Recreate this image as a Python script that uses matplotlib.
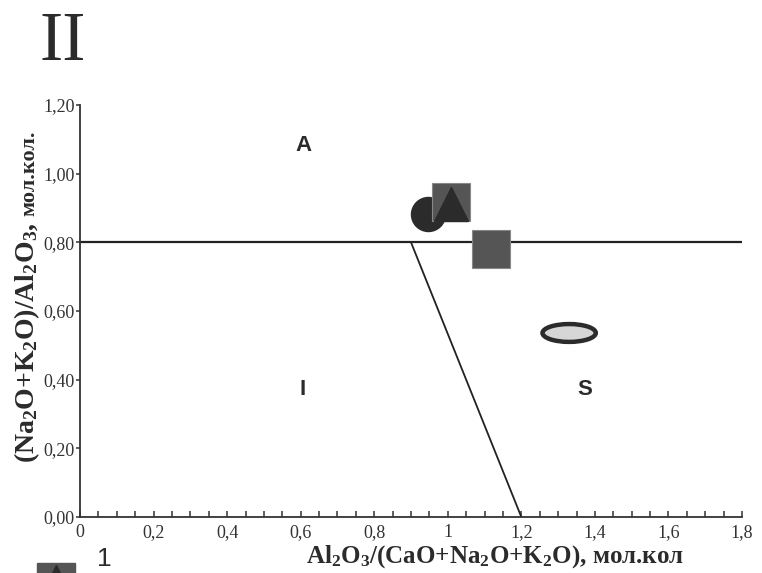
import matplotlib
matplotlib.use("Agg")
import matplotlib.pyplot as plt
from matplotlib.patches import Ellipse
from matplotlib.ticker import MultipleLocator, FixedLocator

plt.rcParams['mathtext.fontset'] = 'custom'
plt.rcParams['mathtext.rm'] = 'Liberation Serif'
plt.rcParams['mathtext.bf'] = 'Liberation Serif:bold'
plt.rcParams['mathtext.it'] = 'Liberation Serif:italic'

# data
x_ticks = [0, 0.2, 0.4, 0.6, 0.8, 1.0, 1.2, 1.4, 1.6, 1.8]
x_tick_labels = ["0", "0,2", "0,4", "0,6", "0,8", "1", "1,2", "1,4", "1,6", "1,8"]
y_ticks = [0.0, 0.2, 0.4, 0.6, 0.8, 1.0, 1.2]
y_tick_labels = ["0,00", "0,20", "0,40", "0,60", "0,80", "1,00", "1,20"]

boundary_h_x = [0.0, 1.8]
boundary_h_y = [0.8, 0.8]
boundary_d_x = [0.9, 1.2]
boundary_d_y = [0.8, 0.0]

circle_pt = (0.945, 0.882)
square1_pt = (1.01, 0.917)
triangle_pt = (1.01, 0.912)
square2_pt = (1.117, 0.780)
ellipse_pt = (1.33, 0.536)

region_labels = ["A", "I", "S"]
region_x = [0.609, 0.604, 1.373]
region_y = [1.082, 0.37, 0.37]

W, H = 762, 573
fig = plt.figure(figsize=(7.62, 5.73), dpi=100)
ax = fig.add_axes([80/W, 1-517/H, (742-80)/W, (517-105)/H])

ax.set_xlim(0, 1.8)
ax.set_ylim(0, 1.2)

ax.spines['top'].set_visible(False)
ax.spines['right'].set_visible(False)
for s in ['left', 'bottom']:
    ax.spines[s].set_color('#333333')
    ax.spines[s].set_linewidth(1.3)

ax.xaxis.set_major_locator(FixedLocator(x_ticks))
ax.set_xticklabels(x_tick_labels)
ax.xaxis.set_minor_locator(MultipleLocator(0.05))
ax.yaxis.set_major_locator(FixedLocator(y_ticks))
ax.set_yticklabels(y_tick_labels)

ax.tick_params(axis='x', which='both', direction='in', length=4, width=1.1,
               color='#333333', pad=5)
ax.tick_params(axis='y', which='major', direction='out', length=3, width=1.1,
               color='#333333', pad=1)
for lab in ax.get_xticklabels() + ax.get_yticklabels():
    lab.set_fontfamily('Liberation Serif')
    lab.set_fontsize(13)
    lab.set_color('#333333')

# boundaries
ax.plot(boundary_h_x, boundary_h_y, color='#222222', lw=1.6, zorder=2)
ax.plot(boundary_d_x, boundary_d_y, color='#222222', lw=1.3, zorder=2)

# markers
ax.plot(*circle_pt, marker='o', ms=24.5, color='#2b2b2b', mec='#2b2b2b', zorder=3)
ax.plot(*square1_pt, marker='s', ms=27, color='#555555', mec='#888888', mew=0.8, zorder=4)
ax.plot(*triangle_pt, marker='^', ms=24, color='#2b2b2b', mec='#2b2b2b', zorder=5)
ax.plot(*square2_pt, marker='s', ms=27, color='#555555', mec='#888888', mew=0.8, zorder=4)
ell = Ellipse(ellipse_pt, width=0.145, height=0.052, facecolor='#d6d6d6',
              edgecolor='#2b2b2b', lw=3.2, zorder=4)
ax.add_patch(ell)

for t, x, y in zip(region_labels, region_x, region_y):
    ax.text(x, y, t, fontfamily='Liberation Sans', fontweight='bold', fontsize=16,
            color='#2b2b2b', ha='center', va='center')

ax.set_xlabel(r"$\mathbf{Al_2O_3/(CaO{+}Na_2O{+}K_2O)}$, мол.кол",
              fontfamily='Liberation Serif', fontweight='bold', fontsize=18,
              color='#2b2b2b')
ax.xaxis.set_label_coords(0.627, -0.097)
ax.xaxis.label.set_va('center')

# y label in two parts (main formula larger, units smaller)
ymain = fig.text(34/W, 1-463/H, r"$\mathbf{(Na_2O{+}K_2O)/Al_2O_3}$,",
                 fontsize=20, color='#2b2b2b', rotation=90, rotation_mode='anchor',
                 ha='left', va='baseline', fontfamily='Liberation Serif', fontweight='bold')
fig.canvas.draw()
bb = ymain.get_window_extent()
fig.text(34/W, (bb.y1 + 7)/H, "мол.кол.", fontsize=16, color='#2b2b2b',
         rotation=90, rotation_mode='anchor', ha='left', va='baseline',
         fontfamily='Liberation Serif', fontweight='bold')

# title
fig.text(40/W, 1-60/H, "II", fontfamily='Liberation Serif', fontsize=50,
         color='#2b2b2b', ha='left', va='baseline')

# legend fragment at bottom
fig.add_artist(plt.Line2D([56/W], [1-582/H], marker='s', ms=28, color='#555555',
                          transform=fig.transFigure, clip_on=False))
fig.add_artist(plt.Line2D([56/W], [1-580/H], marker='^', ms=22, color='#2b2b2b',
                          transform=fig.transFigure, clip_on=False))
fig.text(97/W, 1-571/H, "1", fontfamily='Liberation Sans', fontsize=19,
         color='#2b2b2b', ha='left', va='bottom')

fig.savefig("out.png", dpi=100)
